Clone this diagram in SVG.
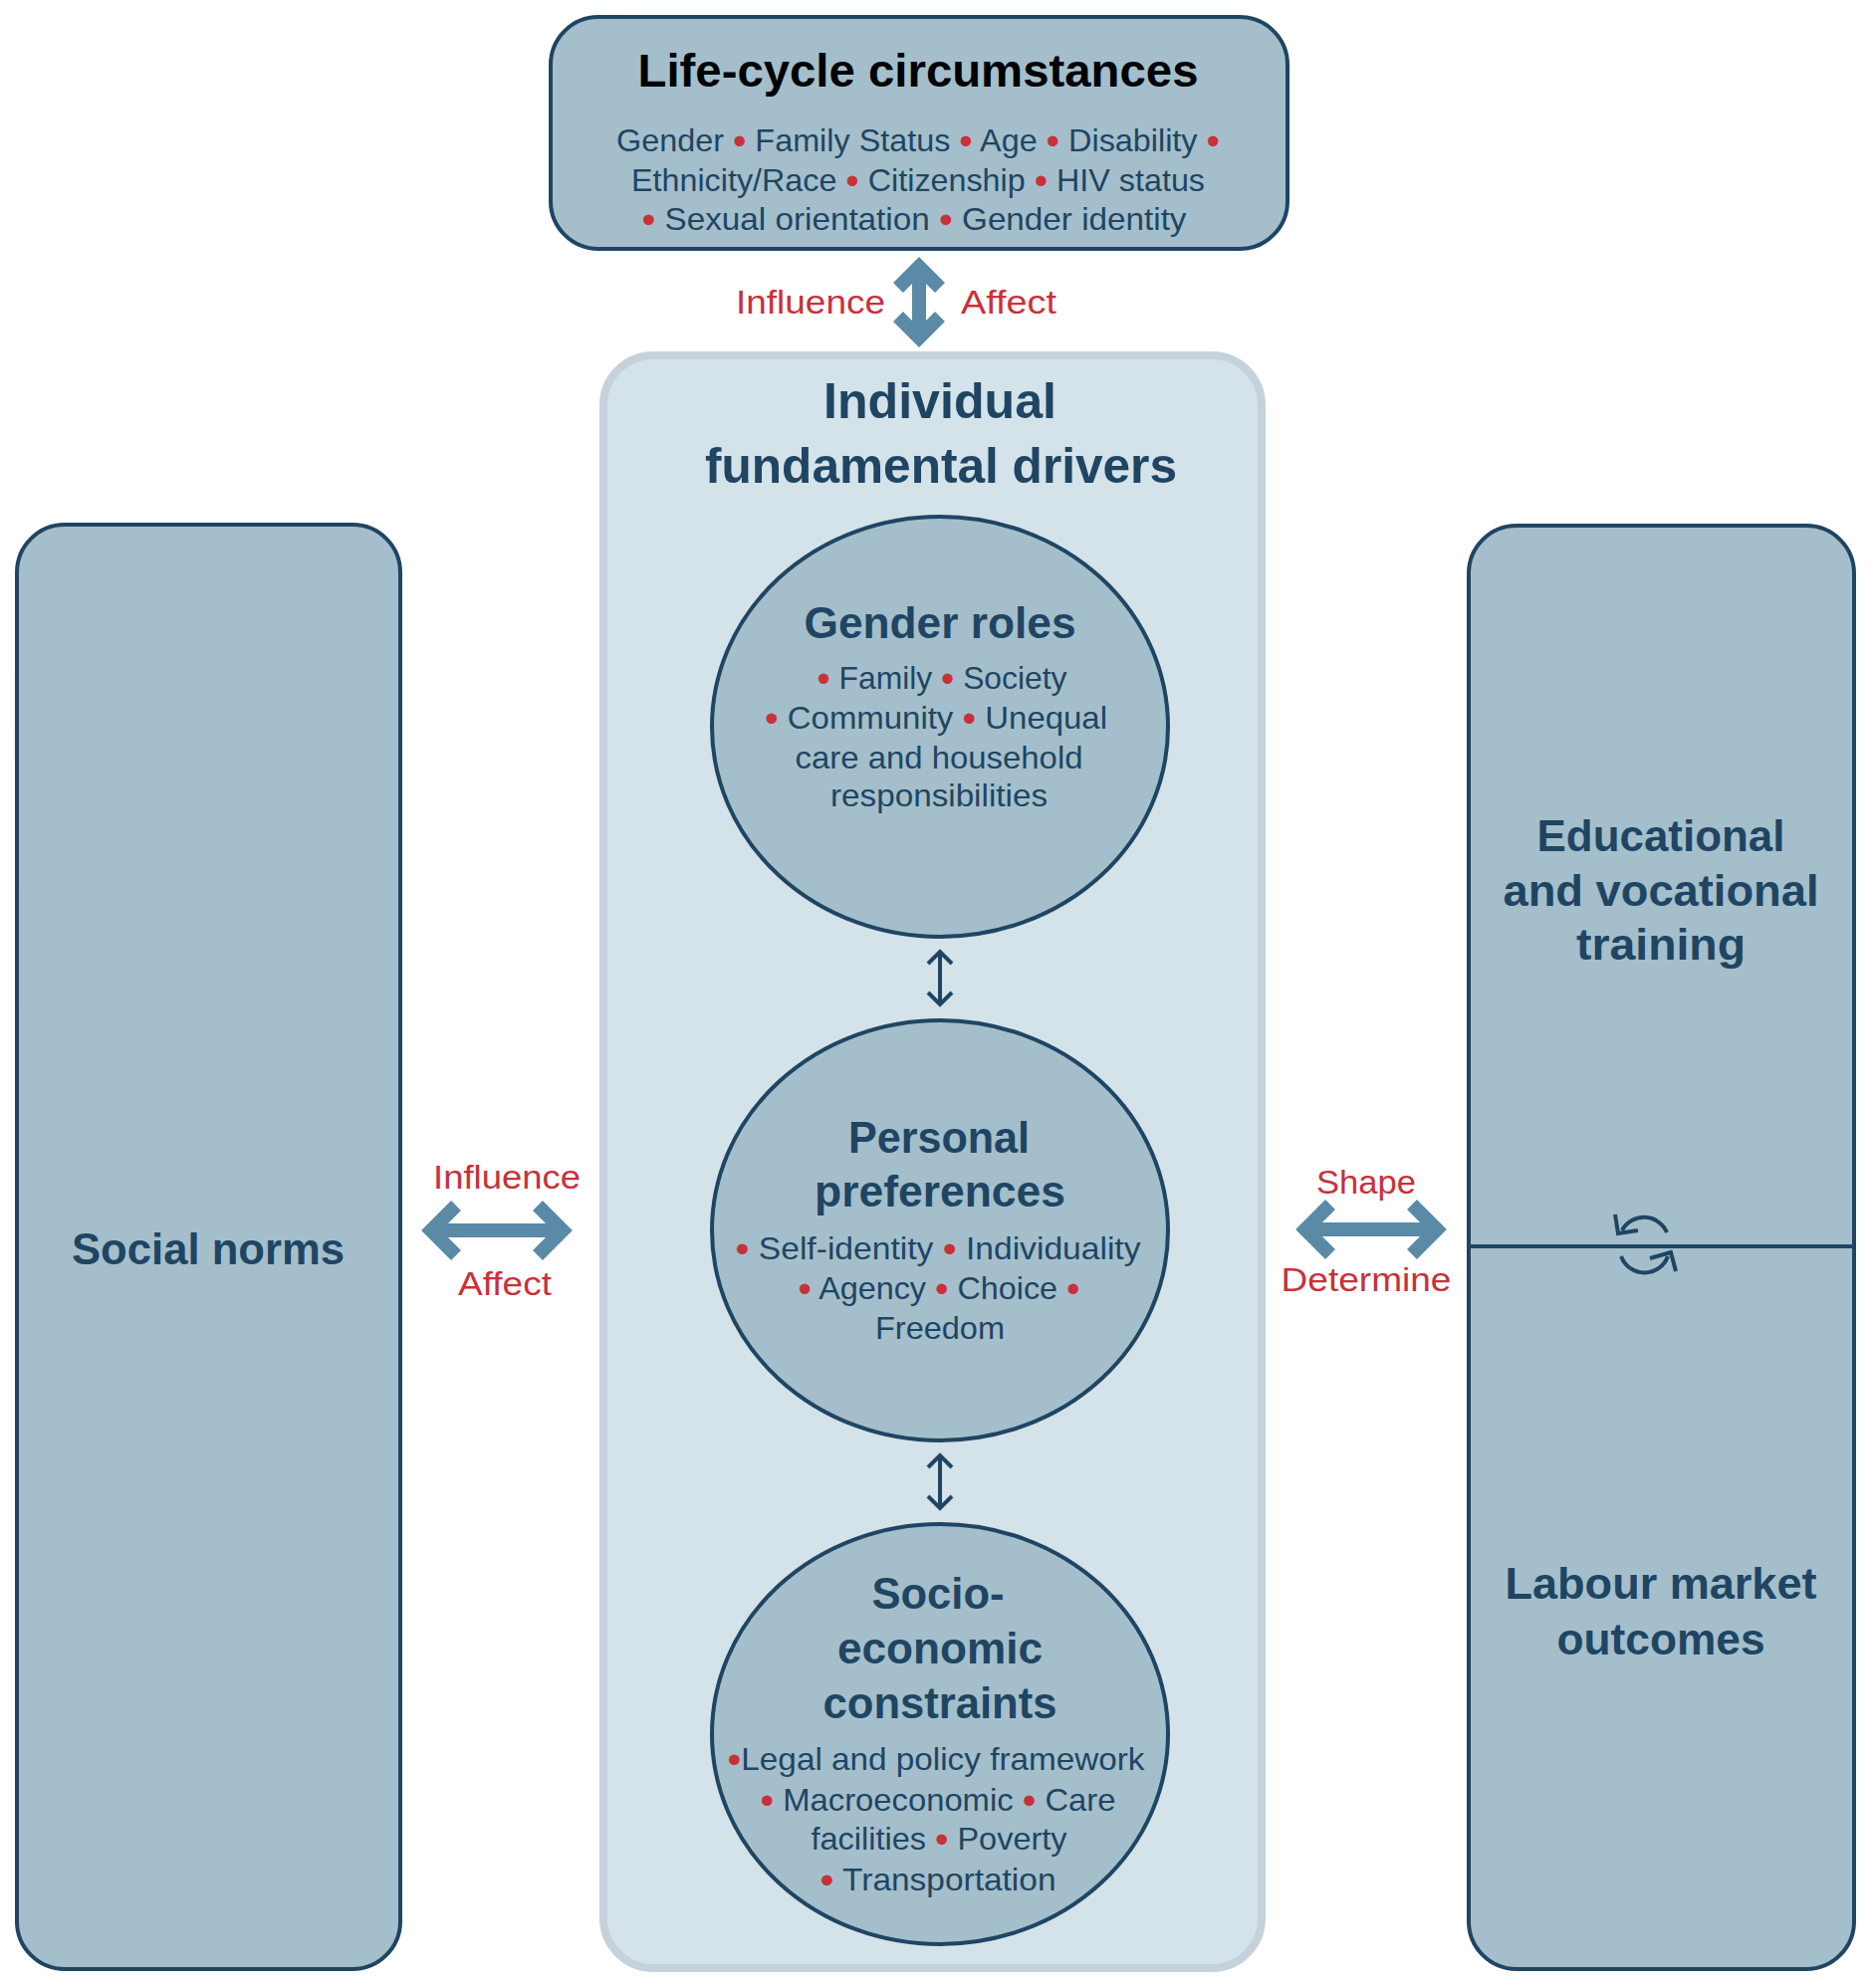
<svg xmlns="http://www.w3.org/2000/svg" width="1881" height="1997" viewBox="0 0 1881 1997">
<style>
.box{fill:#a4bfcb;stroke:#1f4563;stroke-width:4}
.cont{fill:#d4e2e9;stroke:#c6d2db;stroke-width:8}
.t{font-family:"Liberation Sans",Arial,sans-serif;fill:#1f4563;text-anchor:middle}
.b{font-weight:bold}
.body{font-size:32px}
.r{fill:#c8313a;font-size:38px;baseline-shift:-3px}
.lbl{font-family:"Liberation Sans",Arial,sans-serif;fill:#c8313a;font-size:34px;text-anchor:middle}
.big{fill:none;stroke:#5a8aa5;stroke-width:14;stroke-linejoin:miter;stroke-miterlimit:4}
.shaft{fill:none;stroke:#5a8aa5;stroke-width:14}
.thin{fill:none;stroke:#1f4563;stroke-width:4;stroke-linejoin:miter}
</style>
<rect width="1881" height="1997" fill="#ffffff"/>

<g id="life-cycle">
<rect class="box" x="553" y="17" width="740" height="233" rx="48"/>
<text class="t b" x="922" y="87" font-size="47" style="fill:#000000" textLength="563" lengthAdjust="spacingAndGlyphs">Life-cycle circumstances</text>
<text class="t body" x="922" y="152" textLength="606" lengthAdjust="spacingAndGlyphs">Gender <tspan class="r">•</tspan> Family Status <tspan class="r">•</tspan> Age <tspan class="r">•</tspan> Disability <tspan class="r">•</tspan></text>
<text class="t body" x="922" y="192" textLength="576" lengthAdjust="spacingAndGlyphs">Ethnicity/Race <tspan class="r">•</tspan> Citizenship <tspan class="r">•</tspan> HIV status</text>
<text class="t body" x="918" y="231" textLength="547" lengthAdjust="spacingAndGlyphs"><tspan class="r">•</tspan> Sexual orientation <tspan class="r">•</tspan> Gender identity</text>
</g>

<g id="individual-drivers">
<rect class="cont" x="606" y="357" width="661" height="1620" rx="50"/>
<text class="t b" x="944" y="420" font-size="50" textLength="234" lengthAdjust="spacingAndGlyphs">Individual</text>
<text class="t b" x="945" y="485" font-size="50" textLength="474" lengthAdjust="spacingAndGlyphs">fundamental drivers</text>
</g>

<g id="gender-roles">
<ellipse class="box" cx="944" cy="730" rx="229" ry="211"/>
<text class="t b" x="944" y="641" font-size="44" textLength="273" lengthAdjust="spacingAndGlyphs">Gender roles</text>
<text class="t body" x="946" y="692" textLength="251" lengthAdjust="spacingAndGlyphs"><tspan class="r">•</tspan> Family <tspan class="r">•</tspan> Society</text>
<text class="t body" x="940" y="732" textLength="344" lengthAdjust="spacingAndGlyphs"><tspan class="r">•</tspan> Community <tspan class="r">•</tspan> Unequal</text>
<text class="t body" x="943" y="772" textLength="289" lengthAdjust="spacingAndGlyphs">care and household</text>
<text class="t body" x="943" y="810" textLength="218" lengthAdjust="spacingAndGlyphs">responsibilities</text>
</g>

<g id="personal-preferences">
<ellipse class="box" cx="944" cy="1236" rx="229" ry="211"/>
<text class="t b" x="943" y="1158" font-size="44" textLength="182" lengthAdjust="spacingAndGlyphs">Personal</text>
<text class="t b" x="944" y="1212" font-size="44" textLength="252" lengthAdjust="spacingAndGlyphs">preferences</text>
<text class="t body" x="942" y="1265" textLength="407" lengthAdjust="spacingAndGlyphs"><tspan class="r">•</tspan> Self-identity <tspan class="r">•</tspan> Individuality</text>
<text class="t body" x="943" y="1305" textLength="283" lengthAdjust="spacingAndGlyphs"><tspan class="r">•</tspan> Agency <tspan class="r">•</tspan> Choice <tspan class="r">•</tspan></text>
<text class="t body" x="944" y="1345" textLength="130" lengthAdjust="spacingAndGlyphs">Freedom</text>
</g>

<g id="socio-economic">
<ellipse class="box" cx="944" cy="1742" rx="229" ry="211"/>
<text class="t b" x="942" y="1616" font-size="44" textLength="133" lengthAdjust="spacingAndGlyphs">Socio-</text>
<text class="t b" x="944" y="1671" font-size="44" textLength="206" lengthAdjust="spacingAndGlyphs">economic</text>
<text class="t b" x="944" y="1726" font-size="44" textLength="235" lengthAdjust="spacingAndGlyphs">constraints</text>
<text class="t body" x="940" y="1778" textLength="419" lengthAdjust="spacingAndGlyphs"><tspan class="r">•</tspan>Legal and policy framework</text>
<text class="t body" x="942" y="1819" textLength="357" lengthAdjust="spacingAndGlyphs"><tspan class="r">•</tspan> Macroeconomic <tspan class="r">•</tspan> Care</text>
<text class="t body" x="943" y="1858" textLength="257" lengthAdjust="spacingAndGlyphs">facilities <tspan class="r">•</tspan> Poverty</text>
<text class="t body" x="942" y="1899" textLength="237" lengthAdjust="spacingAndGlyphs"><tspan class="r">•</tspan> Transportation</text>
</g>

<g id="social-norms">
<rect class="box" x="17" y="527" width="385" height="1451" rx="48"/>
<text class="t b" x="209" y="1270" font-size="44" textLength="274" lengthAdjust="spacingAndGlyphs">Social norms</text>
</g>

<g id="education-labour">
<rect class="box" x="1475" y="528" width="387" height="1450" rx="48"/>
<line x1="1475" y1="1252" x2="1862" y2="1252" stroke="#1f4563" stroke-width="4"/>
<text class="t b" x="1668" y="855" font-size="44" textLength="249" lengthAdjust="spacingAndGlyphs">Educational</text>
<text class="t b" x="1668" y="910" font-size="44" textLength="317" lengthAdjust="spacingAndGlyphs">and vocational</text>
<text class="t b" x="1668" y="964" font-size="44" textLength="170" lengthAdjust="spacingAndGlyphs">training</text>
<text class="t b" x="1668" y="1606" font-size="44" textLength="313" lengthAdjust="spacingAndGlyphs">Labour market</text>
<text class="t b" x="1668" y="1662" font-size="44" textLength="209" lengthAdjust="spacingAndGlyphs">outcomes</text>
<path class="thin" d="M1674,1238 A25,25 0 0 0 1629,1236"/>
<polyline class="thin" points="1622,1220 1625,1239 1645,1236"/>
<path class="thin" d="M1628,1262 A25,25 0 0 0 1675,1262"/>
<polyline class="thin" points="1657,1264 1678,1258 1683,1277"/>
</g>

<g id="connectors">
<line class="shaft" x1="923" y1="272" x2="923" y2="335"/>
<polyline class="big" points="902,289 923,268 944,289"/>
<polyline class="big" points="902,318 923,339 944,318"/>
<text class="lbl" x="814" y="315" textLength="150" lengthAdjust="spacingAndGlyphs">Influence</text>
<text class="lbl" x="1013" y="315" textLength="96" lengthAdjust="spacingAndGlyphs">Affect</text>

<line class="shaft" x1="436" y1="1236" x2="562" y2="1236"/>
<polyline class="big" points="458,1211 433,1236 458,1261"/>
<polyline class="big" points="540,1211 565,1236 540,1261"/>
<text class="lbl" x="509" y="1194" textLength="148" lengthAdjust="spacingAndGlyphs">Influence</text>
<text class="lbl" x="507" y="1301" textLength="94" lengthAdjust="spacingAndGlyphs">Affect</text>

<line class="shaft" x1="1314" y1="1235" x2="1440" y2="1235"/>
<polyline class="big" points="1336,1210 1311,1235 1336,1260"/>
<polyline class="big" points="1418,1210 1443,1235 1418,1260"/>
<text class="lbl" x="1372" y="1199" textLength="100" lengthAdjust="spacingAndGlyphs">Shape</text>
<text class="lbl" x="1372" y="1297" textLength="171" lengthAdjust="spacingAndGlyphs">Determine</text>

<line class="thin" x1="944" y1="957" x2="944" y2="1008"/>
<polyline class="thin" points="932,968 944,956 956,968"/>
<polyline class="thin" points="932,997 944,1009 956,997"/>
<line class="thin" x1="944" y1="1463" x2="944" y2="1514"/>
<polyline class="thin" points="932,1474 944,1462 956,1474"/>
<polyline class="thin" points="932,1503 944,1515 956,1503"/>
</g>
</svg>
